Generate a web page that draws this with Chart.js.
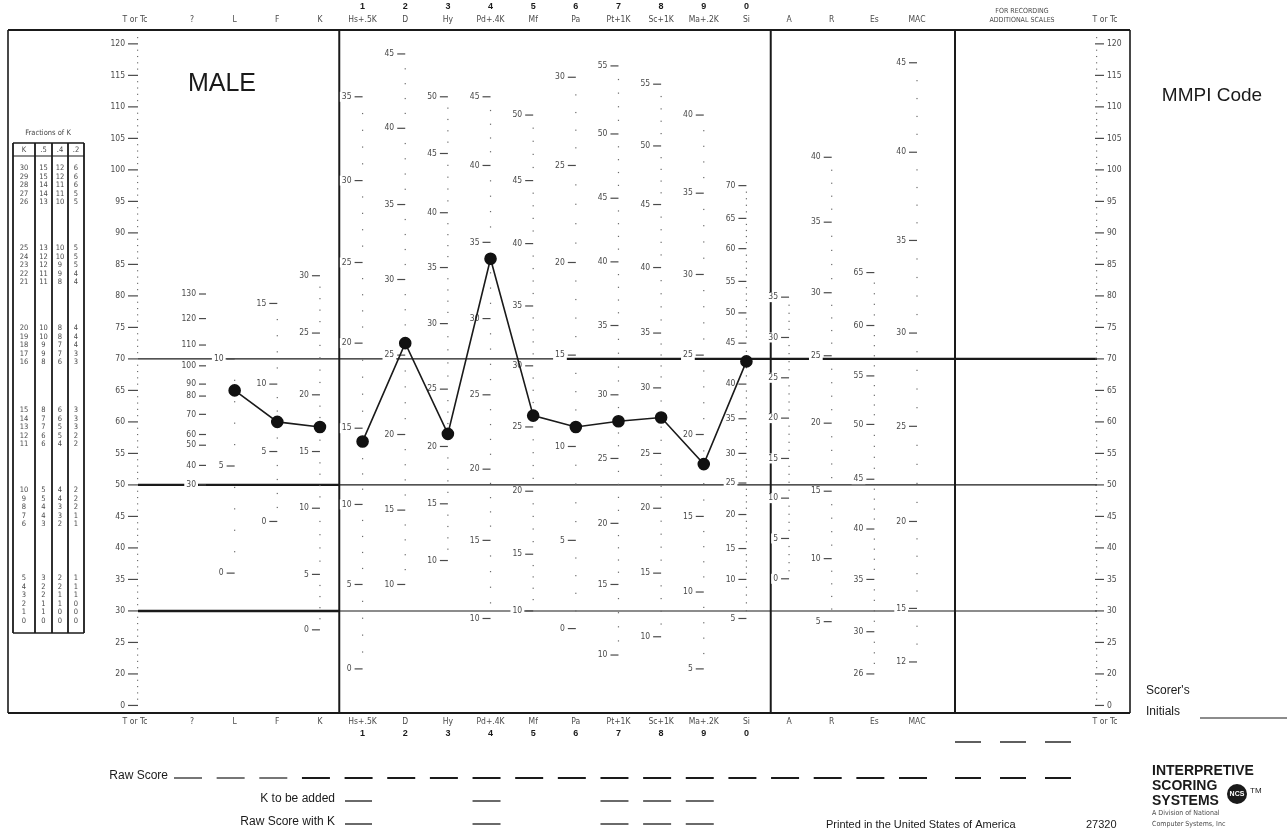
<!DOCTYPE html>
<html>
<head>
<meta charset="utf-8">
<script src="https://cdn.jsdelivr.net/npm/chart.js@4.4.1/dist/chart.umd.min.js"></script>
<style>
    html, body { margin: 0; padding: 0; background: #fff; }
    canvas { display: block; }
</style>
</head>
<body>
<canvas id="profileChart" width="1287" height="834"></canvas>
<script>
// Profile columns (x axis categories)
const scaleKeys = ['?', 'L', 'F', 'K', 'Hs', 'D', 'Hy', 'Pd', 'Mf', 'Pa', 'Pt', 'Sc', 'Ma', 'Si', 'A', 'R', 'Es', 'MAC'];
const headLabels = ['?', 'L', 'F', 'K', 'Hs+.5K', 'D', 'Hy', 'Pd+.4K', 'Mf', 'Pa', 'Pt+1K', 'Sc+1K', 'Ma+.2K', 'Si', 'A', 'R', 'Es', 'MAC'];
const footLabels = ['?', 'L', 'F', 'K', 'Hs+.5K', 'D', 'Hy', 'Pd+.4K', 'Mf', 'Pa', 'Pt+1K', 'Sc+1K', 'Ma+.2K', 'Si', 'A', 'R', 'Es', 'MAC'];
const scaleNumbers = ['', '', '', '', '1', '2', '3', '4', '5', '6', '7', '8', '9', '0', '', '', '', ''];

// Plotted T scores
const validityT = [65, 60, 59.2];                                              // L, F, K
const clinicalT = [56.9, 72.5, 58.1, 85.9, 61, 59.2, 60.1, 60.7, 53.3, 69.6];  // Hs .. Si

// T score axis
const tTicks = [120, 115, 110, 105, 100, 95, 90, 85, 80, 75, 70, 65, 60, 55, 50, 45, 40, 35, 30, 25, 20, 15];
const tTickLabels = ['120', '115', '110', '105', '100', '95', '90', '85', '80', '75', '70', '65', '60', '55', '50', '45', '40', '35', '30', '25', '20', '0'];

// Raw score scales printed in each column (raw value, T position)
const qRaw = [30, 40, 50, 60, 70, 80, 90, 100, 110, 120, 130];
const qT = [50, 53.1, 56.3, 58, 61.2, 64.1, 66, 68.9, 72.2, 76.4, 80.3];
const lRaw = [0, 5, 10];
const lT = [36, 53, 70];
const fRaw = [0, 5, 10, 15];
const fT = [44.2, 55.3, 66, 78.8];
const kRaw = [0, 5, 10, 15, 20, 25, 30];
const kT = [27, 35.8, 46.3, 55.3, 64.3, 74.1, 83.2];
const hsRaw = [0, 5, 10, 15, 20, 25, 30, 35];
const hsT = [20.8, 34.2, 46.9, 59, 72.5, 85.3, 98.3, 111.6];
const dRaw = [10, 15, 20, 25, 30, 35, 40, 45];
const dT = [34.2, 46, 58, 70.6, 82.6, 94.5, 106.6, 118.4];
const hyRaw = [10, 15, 20, 25, 30, 35, 40, 45, 50];
const hyT = [38, 47, 56.1, 65.2, 75.6, 84.5, 93.2, 102.6, 111.6];
const pdRaw = [10, 15, 20, 25, 30, 35, 40, 45];
const pdT = [28.8, 41.2, 52.5, 64.3, 76.4, 88.5, 100.7, 111.6];
const mfRaw = [10, 15, 20, 25, 30, 35, 40, 45, 50];
const mfT = [30, 39, 49, 59.2, 68.9, 78.4, 88.3, 98.3, 108.7];
const paRaw = [0, 5, 10, 15, 20, 25, 30];
const paT = [27.2, 41.2, 56.1, 70.6, 85.3, 100.7, 114.7];
const ptRaw = [10, 15, 20, 25, 30, 35, 40, 45, 50, 55];
const ptT = [23, 34.2, 43.9, 54.2, 64.3, 75.3, 85.4, 95.5, 105.7, 116.5];
const scRaw = [10, 15, 20, 25, 30, 35, 40, 45, 50, 55];
const scT = [25.9, 36, 46.3, 55, 65.4, 74.1, 84.5, 94.5, 103.8, 113.6];
const maRaw = [5, 10, 15, 20, 25, 30, 35, 40];
const maT = [20.8, 33, 45, 58, 70.6, 83.4, 96.3, 108.7];
const siRaw = [5, 10, 15, 20, 25, 30, 35, 40, 45, 50, 55, 60, 65, 70];
const siT = [28.8, 35, 39.9, 45.3, 50.3, 55, 60.5, 66, 72.5, 77.3, 82.3, 87.5, 92.3, 97.5];
const aRaw = [0, 5, 10, 15, 20, 25, 30, 35];
const aT = [35.1, 41.5, 47.9, 54.2, 60.6, 67, 73.4, 79.8];
const rRaw = [5, 10, 15, 20, 25, 30, 35, 40];
const rT = [28.3, 38.3, 49, 59.8, 70.5, 80.5, 91.7, 102];
const esRaw = [26, 30, 35, 40, 45, 50, 55, 60, 65];
const esT = [20, 26.7, 35, 43, 50.9, 59.6, 67.3, 75.3, 83.7];
const macRaw = [12, 15, 20, 25, 30, 35, 40, 45];
const macT = [21.9, 30.4, 44.2, 59.3, 74.1, 88.8, 102.8, 117];

// Fractions of K table
const kFull = [30, 29, 28, 27, 26, 25, 24, 23, 22, 21, 20, 19, 18, 17, 16, 15, 14, 13, 12, 11, 10, 9, 8, 7, 6, 5, 4, 3, 2, 1, 0];
const kHalf = [15, 15, 14, 14, 13, 13, 12, 12, 11, 11, 10, 10, 9, 9, 8, 8, 7, 7, 6, 6, 5, 5, 4, 4, 3, 3, 2, 2, 1, 1, 0];
const kFour = [12, 12, 11, 11, 10, 10, 10, 9, 9, 8, 8, 8, 7, 7, 6, 6, 6, 5, 5, 4, 4, 4, 3, 3, 2, 2, 2, 1, 1, 0, 0];
const kTwo = [6, 6, 6, 5, 5, 5, 5, 5, 4, 4, 4, 4, 4, 3, 3, 3, 3, 3, 2, 2, 2, 2, 2, 1, 1, 1, 1, 1, 0, 0, 0];

const columnScales = [
    [qRaw, qT], [lRaw, lT], [fRaw, fT], [kRaw, kT], [hsRaw, hsT], [dRaw, dT], [hyRaw, hyT],
    [pdRaw, pdT], [mfRaw, mfT], [paRaw, paT], [ptRaw, ptT], [scRaw, scT], [maRaw, maT],
    [siRaw, siT], [aRaw, aT], [rRaw, rT], [esRaw, esT], [macRaw, macT]
];

const validityData = scaleKeys.map((k, i) => (i >= 1 && i <= 3) ? validityT[i - 1] : null);
const clinicalData = scaleKeys.map((k, i) => (i >= 4 && i <= 13) ? clinicalT[i - 4] : null);

const INK = '#1a1a1a';
const SOFT = '#4a4a4a';
const FAINT = '#6a6a6a';
const NARROW = '"Liberation Sans Narrow", "DejaVu Sans Condensed", "Liberation Sans", sans-serif';
const SANS = '"Liberation Sans", Arial, sans-serif';

function txt(ctx, s, x, y, font, align, color) {
    ctx.font = font;
    ctx.textAlign = align || 'left';
    ctx.textBaseline = 'middle';
    ctx.fillStyle = color || INK;
    ctx.fillText(s, x, y);
}

function line(ctx, x1, y1, x2, y2, w, color) {
    ctx.beginPath();
    ctx.lineWidth = w;
    ctx.strokeStyle = color || INK;
    ctx.moveTo(x1, y1);
    ctx.lineTo(x2, y2);
    ctx.stroke();
}

// T position of a raw score inside one column scale (piecewise between printed values)
function rawToT(raws, ts, r) {
    for (let i = 0; i < raws.length - 1; i++) {
        if (r >= raws[i] && r <= raws[i + 1]) {
            return ts[i] + (ts[i + 1] - ts[i]) * (r - raws[i]) / (raws[i + 1] - raws[i]);
        }
    }
    return null;
}

const formPlugin = {
    id: 'mmpiForm',
    beforeDraw(chart) {
        const ctx = chart.ctx;
        ctx.save();
        ctx.fillStyle = '#fff';
        ctx.fillRect(0, 0, chart.width, chart.height);
        ctx.restore();
    },
    beforeDatasetsDraw(chart) {
        const ctx = chart.ctx;
        const xs = chart.scales.x;
        const ys = chart.scales.y;
        const px = i => xs.getPixelForValue(i);
        const py = t => ys.getPixelForValue(t);
        const top = chart.chartArea.top;
        const bottom = chart.chartArea.bottom;
        const boxLeft = 8, boxRight = 1130;
        const leftAxis = 138, rightAxis = 1097;
        const sep1 = (px(3) + px(4)) / 2 - 2;
        const sep2 = (px(13) + px(14)) / 2 + 3;
        const sep3 = px(17) + 38;

        ctx.save();

        // outer box and dividers
        line(ctx, boxLeft, top, boxRight, top, 2.2);
        line(ctx, boxLeft, bottom, boxRight, bottom, 2.2);
        line(ctx, boxLeft, top, boxLeft, bottom, 1.6);
        line(ctx, boxRight, top, boxRight, bottom, 1.6);
        line(ctx, sep1, top, sep1, bottom, 2);
        line(ctx, sep2, top, sep2, bottom, 2);
        line(ctx, sep3, top, sep3, bottom, 2);

        // horizontal reference lines
        line(ctx, leftAxis, py(70), 560, py(70), 1.1);
        line(ctx, 560, py(70), rightAxis, py(70), 2.2);
        line(ctx, leftAxis, py(50), sep1, py(50), 2.2);
        line(ctx, sep1, py(50), rightAxis, py(50), 1.1);
        line(ctx, leftAxis, py(30), sep1, py(30), 2.4);
        line(ctx, sep1, py(30), rightAxis, py(30), 1.1);

        // T axis on both sides
        ctx.fillStyle = FAINT;
        for (let t = 16; t <= 121; t++) {
            if (t % 5 === 0) continue;
            ctx.fillRect(leftAxis - 1, py(t) - 0.5, 1.2, 1.1);
            ctx.fillRect(rightAxis - 1, py(t) - 0.5, 1.2, 1.1);
        }
        tTicks.forEach((t, i) => {
            const y = py(t);
            line(ctx, leftAxis - 10, y, leftAxis, y, 1.2, SOFT);
            line(ctx, rightAxis - 2, y, rightAxis + 7, y, 1.2, SOFT);
            txt(ctx, tTickLabels[i], leftAxis - 13, y, '8.5px ' + NARROW, 'right', SOFT);
            txt(ctx, tTickLabels[i], rightAxis + 10, y, '8.5px ' + NARROW, 'left', SOFT);
        });

        // raw score scales in every column
        columnScales.forEach((pair, c) => {
            const raws = pair[0], ts = pair[1];
            const cx = px(c);
            if (c > 0) {
                ctx.fillStyle = FAINT;
                for (let r = raws[0] + 1; r < raws[raws.length - 1]; r++) {
                    if (raws.indexOf(r) >= 0) continue;
                    const t = rawToT(raws, ts, r);
                    ctx.fillRect(cx - 0.6, py(t) - 0.6, 1.2, 1.2);
                }
            }
            raws.forEach((r, i) => {
                const y = py(ts[i]);
                const s = String(r);
                ctx.font = '8.5px ' + NARROW;
                const w = ctx.measureText(s).width;
                const tx = c === 0 ? cx + 4 : cx - 11;
                ctx.fillStyle = '#fff';
                ctx.fillRect(tx - w - 2, y - 5, w + 4, 10);
                txt(ctx, s, tx, y, '8.5px ' + NARROW, 'right', SOFT);
                if (c === 0) line(ctx, cx + 7, y, cx + 14, y, 1.2, SOFT);
                else line(ctx, cx - 8, y, cx, y, 1.2, SOFT);
            });
        });

        // header above the box
        headLabels.forEach((s, i) => {
            txt(ctx, s, px(i), 20, '8.5px ' + NARROW, 'center', SOFT);
            if (scaleNumbers[i]) txt(ctx, scaleNumbers[i], px(i), 7, 'bold 9px ' + SANS, 'center', INK);
        });
        txt(ctx, 'T or Tc', 135, 20, '8.5px ' + NARROW, 'center', SOFT);
        txt(ctx, 'T or Tc', 1105, 20, '8.5px ' + NARROW, 'center', SOFT);
        txt(ctx, 'FOR RECORDING', 1022, 11, '7px ' + NARROW, 'center', SOFT);
        txt(ctx, 'ADDITIONAL SCALES', 1022, 20, '7px ' + NARROW, 'center', SOFT);

        // labels below the box
        footLabels.forEach((s, i) => {
            txt(ctx, s, px(i), bottom + 9, '8.5px ' + NARROW, 'center', SOFT);
            if (scaleNumbers[i]) txt(ctx, scaleNumbers[i], px(i), bottom + 21, 'bold 9px ' + SANS, 'center', INK);
        });
        txt(ctx, 'T or Tc', 135, bottom + 9, '8.5px ' + NARROW, 'center', SOFT);
        txt(ctx, 'T or Tc', 1105, bottom + 9, '8.5px ' + NARROW, 'center', SOFT);

        // titles
        txt(ctx, 'MALE', 222, 84, '25px ' + SANS, 'center', INK);
        txt(ctx, 'MMPI Code', 1212, 96, '19px ' + SANS, 'center', INK);

        // fractions of K table
        const colX = [13, 35, 52, 68, 84];
        const tblTop = 143, tblBottom = 633;
        txt(ctx, 'Fractions of K', 48, 133, '7.5px ' + NARROW, 'center', SOFT);
        line(ctx, colX[0], tblTop, colX[4], tblTop, 1.6);
        line(ctx, colX[0], tblBottom, colX[4], tblBottom, 1.6);
        line(ctx, colX[0], 156, colX[4], 156, 1.2);
        colX.forEach(x => line(ctx, x, tblTop, x, tblBottom, 1.8));
        ['K', '.5', '.4', '.2'].forEach((s, i) => txt(ctx, s, (colX[i] + colX[i + 1]) / 2, 150, '7.5px ' + NARROW, 'center', SOFT));
        const groupTop = [168, 248, 328, 410, 490, 578];
        kFull.forEach((k, r) => {
            const g = Math.min(Math.floor(r / 5), 5);
            const y = groupTop[g] + (r - g * 5) * 8.6;
            [k, kHalf[r], kFour[r], kTwo[r]].forEach((v, i) => {
                txt(ctx, String(v), (colX[i] + colX[i + 1]) / 2, y, '7.5px ' + NARROW, 'center', SOFT);
            });
        });

        // raw score rows under the form
        txt(ctx, 'Raw Score', 168, 776, '12px ' + SANS, 'right', INK);
        for (let i = 0; i < scaleKeys.length; i++) {
            const cx = px(i) - 4;
            line(ctx, cx - 14, 778, cx + 14, 778, i < 3 ? 1.2 : 2);
        }
        [968, 1013, 1058].forEach(cx => {
            line(ctx, cx - 13, 778, cx + 13, 778, 2);
            line(ctx, cx - 13, 742, cx + 13, 742, 1.4);
        });
        txt(ctx, 'K to be added', 335, 799, '12px ' + SANS, 'right', INK);
        txt(ctx, 'Raw Score with K', 335, 822, '12px ' + SANS, 'right', INK);
        [799, 822].forEach(y => {
            line(ctx, 345, y + 2, 372, y + 2, 1.3);
            [7, 10, 11, 12].forEach(i => line(ctx, px(i) - 18, y + 2, px(i) + 10, y + 2, 1.3));
        });

        txt(ctx, 'Printed in the United States of America', 826, 825, '11px ' + SANS, 'left', INK);
        txt(ctx, '27320', 1086, 825, '11px ' + SANS, 'left', INK);

        // scorer box
        txt(ctx, "Scorer's", 1146, 691, '12px ' + SANS, 'left', INK);
        txt(ctx, 'Initials', 1146, 712, '12px ' + SANS, 'left', INK);
        line(ctx, 1200, 718, 1287, 718, 1.2);

        // publisher logo
        txt(ctx, 'INTERPRETIVE', 1152, 771, 'bold 14px ' + SANS, 'left', INK);
        txt(ctx, 'SCORING', 1152, 786, 'bold 14px ' + SANS, 'left', INK);
        txt(ctx, 'SYSTEMS', 1152, 801, 'bold 14px ' + SANS, 'left', INK);
        ctx.beginPath();
        ctx.fillStyle = INK;
        ctx.arc(1237, 794, 10, 0, Math.PI * 2);
        ctx.fill();
        txt(ctx, 'NCS', 1237, 794, 'bold 7px ' + SANS, 'center', '#fff');
        txt(ctx, 'TM', 1250, 791, '8px ' + SANS, 'left', INK);
        txt(ctx, 'A Division of National', 1152, 813, '7px ' + NARROW, 'left', SOFT);
        txt(ctx, 'Computer Systems, Inc', 1152, 824, '7px ' + NARROW, 'left', SOFT);

        ctx.restore();
    }
};

const ctx = document.getElementById('profileChart').getContext('2d');
const lineStyle = {
    borderColor: INK,
    borderWidth: 1.6,
    pointRadius: 5.5,
    pointBackgroundColor: '#111',
    pointBorderColor: '#111',
    tension: 0,
    spanGaps: false,
    clip: false
};

new Chart(ctx, {
    type: 'line',
    data: {
        labels: scaleKeys,
        datasets: [
            Object.assign({ label: 'Validity', data: validityData }, lineStyle),
            Object.assign({ label: 'Clinical', data: clinicalData }, lineStyle)
        ]
    },
    options: {
        responsive: false,
        animation: false,
        layout: { padding: { left: 192, right: 370, top: 30, bottom: 121 } },
        plugins: {
            legend: { display: false },
            tooltip: { enabled: false }
        },
        scales: {
            x: { type: 'category', offset: false, display: false },
            y: { type: 'linear', min: 13.8, max: 122.2, display: false }
        }
    },
    plugins: [formPlugin]
});
</script>
</body>
</html>
